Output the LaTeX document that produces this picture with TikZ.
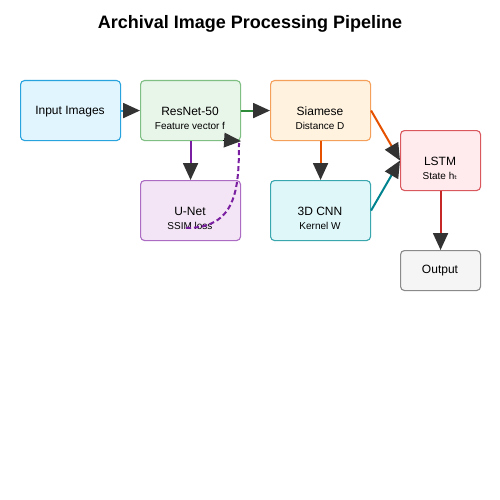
\documentclass[tikz,border=0pt]{standalone}
\usepackage{fontspec}
\setmainfont{Liberation Sans}
\newfontfamily\dejavu{DejaVu Sans}
\usetikzlibrary{arrows.meta}
\definecolor{inF}{HTML}{E1F5FE}\definecolor{inD}{HTML}{29A3DE}
\definecolor{reF}{HTML}{E8F5E9}\definecolor{reD}{HTML}{7FBF84}\definecolor{reL}{HTML}{2E8B3A}
\definecolor{siF}{HTML}{FFF3E0}\definecolor{siD}{HTML}{F5A05A}\definecolor{siL}{HTML}{E65100}
\definecolor{lsF}{HTML}{FFEBEE}\definecolor{lsD}{HTML}{D9585E}\definecolor{lsL}{HTML}{C62828}
\definecolor{unF}{HTML}{F3E5F5}\definecolor{unD}{HTML}{AC6CC4}\definecolor{unL}{HTML}{7B1FA2}
\definecolor{cnF}{HTML}{E0F7FA}\definecolor{cnD}{HTML}{3AA6AE}\definecolor{cnL}{HTML}{00838F}
\definecolor{ouF}{HTML}{F5F5F5}\definecolor{ouD}{HTML}{8A8A8A}
\definecolor{tip}{HTML}{333333}
\begin{document}
\begin{tikzpicture}[x=1pt,y=-1pt,
  box/.style={draw, rounded corners=4pt, line width=1.1pt, inner sep=0pt, anchor=north west},
  main/.style={font=\fontsize{12}{14}\selectfont},
  sub/.style={font=\fontsize{10}{12}\selectfont},
  conn/.style={line width=2pt, -{Triangle[length=17pt,width=15pt,color=tip]}},
  ]
\useasboundingbox[fill=white] (0,0) rectangle (500,500);
\node[font=\bfseries\fontsize{18}{22}\selectfont] (title) at (250,24) {Archival Image Processing Pipeline};

\node[box, fill=inF, draw=inD, minimum width=100pt, minimum height=60pt] (in) at (20,80) {};
\node[box, fill=reF, draw=reD, minimum width=100pt, minimum height=60pt] (re) at (140,80) {};
\node[box, fill=siF, draw=siD, minimum width=100pt, minimum height=60pt] (si) at (270,80) {};
\node[box, fill=lsF, draw=lsD, minimum width=80pt, minimum height=60pt] (ls) at (400,130) {};
\node[box, fill=unF, draw=unD, minimum width=100pt, minimum height=60pt] (un) at (140,180) {};
\node[box, fill=cnF, draw=cnD, minimum width=100pt, minimum height=60pt] (cn) at (270,180) {};
\node[box, fill=ouF, draw=ouD, minimum width=80pt, minimum height=40pt] (ou) at (400,250) {};

\node[main] (inT) at (70,111.5) {Input Images};
\node[main] (reT) at (190,111) {ResNet-50};
\node[sub] (reS) at (190,126) {Feature vector f};
\node[main] (siT) at (320,111) {Siamese};
\node[sub] (siS) at (320,126) {Distance D};
\node[main] (lsT) at (440,161) {LSTM};
\node[sub] (lsS) at (440,176) {State h{\dejavu ₜ}};
\node[main] (unT) at (190,211) {U-Net};
\node[sub] (unS) at (190,226) {SSIM loss};
\node[main] (cnT) at (320,211) {3D CNN};
\node[sub] (cnS) at (320,226) {Kernel W};
\node[main] (ouT) at (440,271) {Output};

\draw[conn, draw=inD] (in.east) -- (re.west);
\draw[conn, draw=reL] (re.east) -- (si.west);
\draw[conn, draw=unL] (re.south) -- (un.north);
\draw[conn, draw=siL] (si.south) -- (cn.north);
\draw[conn, draw=siL] (si.east) -- (ls.west);
\draw[conn, draw=cnL] (cn.east) -- (ls.west);
\draw[conn, draw=lsL] (ls.south) -- (ou.north);

\coordinate (fbs) at (186,228);
\coordinate (fbe) at (239,143);
\coordinate (fbt) at (223,140);
\draw[unL, line width=2pt, dash pattern=on 5pt off 3pt] (fbs) .. controls (236,228) and (239,190) .. (fbe);
\draw[line width=0pt, -{Triangle[length=17pt,width=15pt,color=tip]}] (fbt) -- (re.south east);
\end{tikzpicture}
\end{document}
